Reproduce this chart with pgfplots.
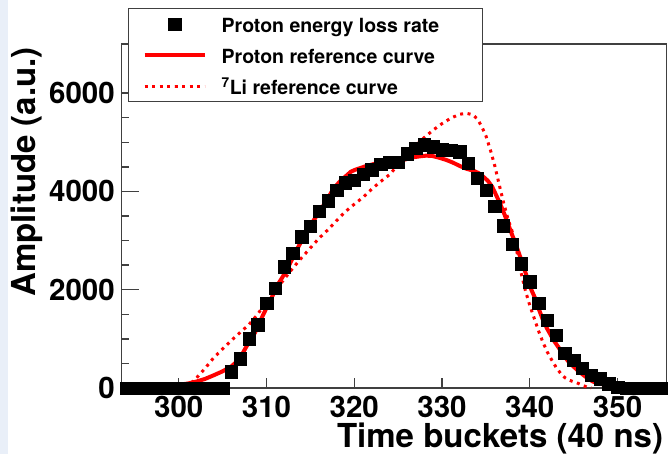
\documentclass[border=0pt]{standalone}
\usepackage{fontspec}
\setmainfont{TeX Gyre Heros}
\usepackage{pgfplots}
\usepackage{pgfplotstable}
\pgfplotsset{compat=1.18}
\definecolor{framegray}{gray}{0.25}
\definecolor{strip}{RGB}{233,239,248}
\pgfplotstableread{
x y
294 0
295 0
296 0
297 0
298 0
299 0
300 0
301 0
302 0
303 0
304 0
305 0
306 330
307 600
308 1000
309 1290
310 1720
311 2030
312 2470
313 2740
314 3080
315 3290
316 3600
317 3810
318 4020
319 4180
320 4230
321 4350
322 4440
323 4550
324 4600
325 4600
326 4770
327 4880
328 4950
329 4910
330 4850
331 4840
332 4810
333 4570
334 4270
335 4030
336 3700
337 3300
338 2930
339 2530
340 2160
341 1720
342 1380
343 1080
344 710
345 570
346 400
347 265
348 190
349 90
350 20
351 0
352 0
353 0
354 0
355 0
}\data
\pgfplotstableread{
x y
293.5 15
296 25
298 40
300 65
301 90
302 130
303 185
304 260
305 340
306 440
306.6 535
307.2 680
307.7 840
308.2 990
308.7 1130
309.2 1330
309.7 1520
310.2 1700
310.7 1880
311.2 2080
311.8 2250
312.3 2400
312.8 2580
313.4 2800
313.9 2960
314.4 3110
314.9 3260
315.4 3420
316 3580
316.5 3720
317 3860
317.6 4050
318 4130
318.5 4230
319.1 4320
319.6 4400
320.1 4440
320.6 4470
321.4 4520
322.4 4565
323.3 4580
324.2 4595
325.2 4620
326 4660
326.7 4694
327.5 4715
328.2 4728
328.9 4721
329.6 4690
330.5 4640
331.2 4590
332 4520
332.8 4460
333.6 4420
334.2 4370
334.7 4300
335.2 4220
335.7 4100
336.1 3950
336.6 3760
337.1 3540
337.5 3352
338 3110
338.5 2876
339 2620
339.6 2300
340.1 2030
340.6 1830
341 1620
341.5 1384
342 1200
342.7 977
343.3 820
343.8 672
344.4 540
345 434
345.5 350
346.1 265
346.6 195
347.2 130
348 85
348.8 60
350 40
352 30
355.6 25
}\proton
\pgfplotstableread{
x y
300.8 0
302 200
303 400
304 620
306 970
308 1290
309 1500
310 1770
311 1990
312 2210
313 2440
314 2650
315 2850
316 3050
317 3220
318 3410
319 3590
320 3740
321 3880
322 4050
323 4200
324 4340
325 4540
326 4750
327 4930
328 5100
329 5250
330 5380
331 5490
332 5570
332.8 5590
333.5 5560
334 5480
334.5 5330
335 5130
335.5 4850
336 4530
336.5 4150
337 3780
337.5 3450
338 3180
338.5 2800
339 2350
339.5 1980
340 1680
340.5 1420
341 1160
341.5 930
342 730
342.5 570
343 420
343.5 300
344 210
344.5 160
345 125
345.5 95
346 55
346.5 20
347 0
}\lithium
\begin{document}
\begin{tikzpicture}
\path[use as bounding box, fill=white] (-121.7bp,-66bp) rectangle (547.3bp,388bp);
\fill[strip] (-121.7bp,-66bp) rectangle (-113.5bp,388bp);
\begin{axis}[
  scale only axis, width=545bp, height=344bp,
  xmin=293.5, xmax=355.6, ymin=0, ymax=7000,
  xtick=\empty,
  extra x ticks={300,310,...,350},
  extra x tick style={major tick length=10bp},
  minor xtick={295,305,...,355},
  ytick={0,2000,4000,6000},
  minor y tick num=3,
  xtick pos=bottom, ytick pos=left, tick align=inside,
  major tick length=17bp, minor tick length=7bp,
  axis line style={framegray, line width=1.3bp},
  every tick/.style={framegray, line width=1.3bp},
  scaled y ticks=false,
  /pgf/number format/assume math mode=true,
  /pgf/number format/1000 sep={},
  tick label style={font=\fontsize{29.5bp}{34bp}\selectfont\bfseries, inner sep=0pt},
  yticklabel style={xshift=-6.7bp},
  xticklabel style={yshift=-8bp},
  xlabel={Time buckets (40 ns)},
  ylabel={Amplitude (a.u.)},
  label style={font=\fontsize{33bp}{40bp}\selectfont\bfseries, inner sep=0pt},
  xlabel style={at={(axis description cs:1,0)}, anchor=base east, yshift=-59bp, xshift=-3.5bp},
  ylabel style={at={(axis description cs:0,1)}, anchor=base east, yshift=85.7bp, xshift=-3bp},
  clip=false,
  legend style={at={(axis description cs:0.0116,1.1047)}, anchor=north west,
    draw=framegray, line width=1.3bp, fill=white,
    inner xsep=14bp, inner ysep=4bp, row sep=8bp, column sep=15bp,
    font=\fontsize{19.5bp}{23bp}\selectfont\bfseries,
    nodes={inner sep=0pt, text height=20bp, text depth=3bp}},
  legend cell align=left,
  legend image code/.code={\draw[mark repeat=2,mark phase=2,#1] plot coordinates {(0bp,0bp) (30bp,0bp) (60bp,0bp)};},
]
\addplot[only marks, mark=square*, mark size=6.2bp, color=black, mark options={line width=0.4bp}] table[x=x,y=y] {\data};
\addplot[color=red, line width=4bp, line join=round] table[x=x,y=y] {\proton};
\addplot[color=red, line width=3bp, dash pattern=on 3bp off 4.5bp] table[x=x,y=y] {\lithium};
\legend{\makebox[247bp][l]{Proton energy loss rate}, Proton reference curve, \textsuperscript{7}Li reference curve}
\end{axis}
\end{tikzpicture}
\end{document}
